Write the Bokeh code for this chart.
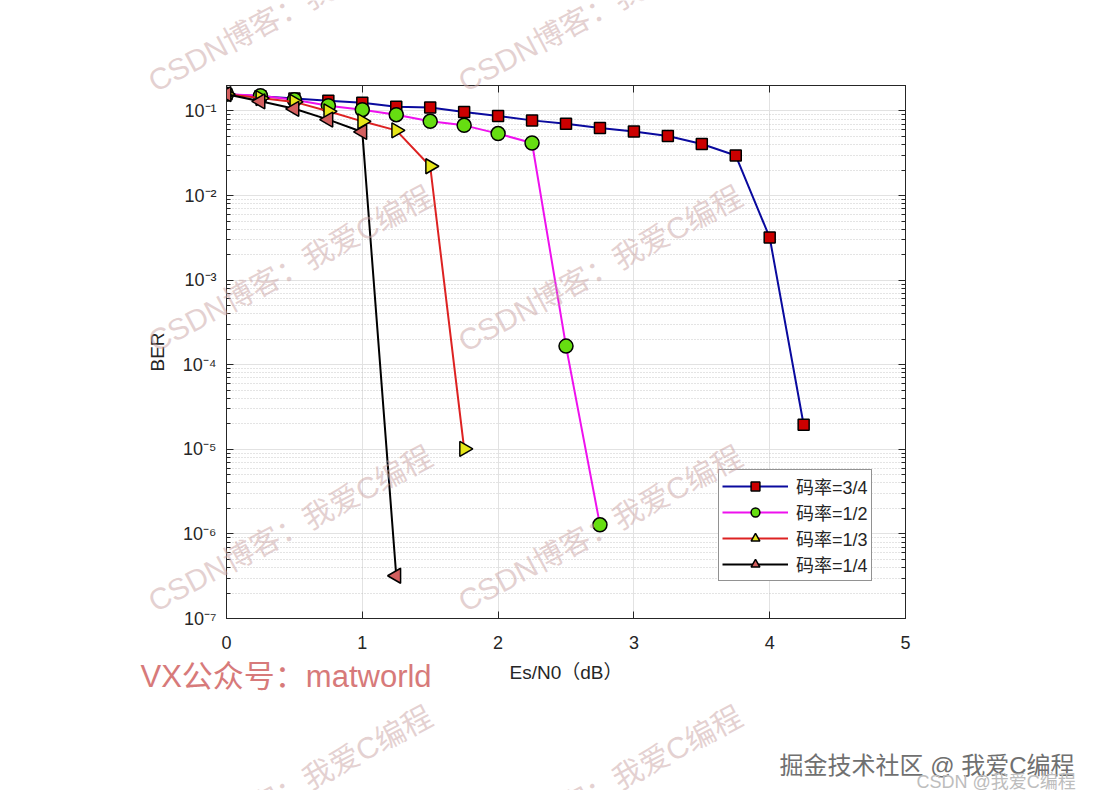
from bokeh.plotting import figure
from bokeh.layouts import column
from bokeh.models import (Range1d, FixedTicker, LinearAxis, LogAxis, Legend,
                          LegendItem, Label, CustomJSTickFormatter)
from bokeh.embed import file_html
from bokeh.resources import INLINE

# ---------------- data ----------------
series_names = ["码率=3/4", "码率=1/2", "码率=1/3", "码率=1/4"]

esn0_r34 = [0, 0.25, 0.5, 0.75, 1.0, 1.25, 1.5, 1.75, 2.0, 2.25, 2.5, 2.75,
            3.0, 3.25, 3.5, 3.75, 4.0, 4.25]
ber_r34 = [0.158, 0.149, 0.140, 0.132, 0.125, 0.112, 0.110, 0.097, 0.087,
           0.0774, 0.0708, 0.0628, 0.0570, 0.0506, 0.0407, 0.0297, 0.00319,
           1.95e-5]

esn0_r12 = [0, 0.25, 0.5, 0.75, 1.0, 1.25, 1.5, 1.75, 2.0, 2.25, 2.5, 2.75]
ber_r12 = [0.158, 0.1516, 0.136, 0.1155, 0.1035, 0.0904, 0.0754, 0.0676,
           0.054, 0.0418, 1.66e-4, 1.28e-6]

esn0_r13 = [0, 0.25, 0.5, 0.75, 1.0, 1.25, 1.5, 1.75]
ber_r13 = [0.158, 0.142, 0.128, 0.099, 0.0754, 0.059, 0.0222, 1.01e-5]

esn0_r14 = [0, 0.25, 0.5, 0.75, 1.0, 1.25]
ber_r14 = [0.158, 0.130, 0.106, 0.079, 0.0565, 3.2e-7]

x_ticks = [0, 1, 2, 3, 4, 5]
x_tick_labels = ["0", "1", "2", "3", "4", "5"]
y_ticks = [1e-7, 1e-6, 1e-5, 1e-4, 1e-3, 1e-2, 1e-1]
y_tick_labels = ["10⁻⁷", "10⁻⁶", "10⁻⁵", "10⁻⁴", "10⁻³", "10⁻²", "10⁻¹"]
x_label = "Es/N0（dB）"
y_label = "BER"

watermark_text = "CSDN博客：我爱C编程"
footer_texts = ["VX公众号：matworld", "掘金技术社区 @ 我爱C编程", "CSDN @我爱C编程"]

# ---------------- layout / style ----------------
FONT = "'Liberation Sans', 'Noto Sans CJK SC'"
AX = "#262626"
W, H = 1094, 790
FL, FR, FT, FB = 226, 905, 85, 618   # frame edges in canvas pixels

p = figure(width=W, height=H, y_axis_type="log",
           x_range=Range1d(0, 5), y_range=Range1d(1e-7, 0.2),
           output_backend="svg", toolbar_location=None,
           min_border_left=FL, min_border_right=W - FR,
           min_border_top=FT, min_border_bottom=H - FB)
p.background_fill_color = "white"
p.border_fill_color = "white"
p.outline_line_color = AX
p.outline_line_width = 1

y_minor = [k * 10.0 ** e for e in range(-7, 0) for k in range(2, 10)
           if k * 10.0 ** e <= 0.2]
xt = FixedTicker(ticks=x_ticks, minor_ticks=[])
yt = FixedTicker(ticks=y_ticks, minor_ticks=y_minor)

xa = p.xaxis[0]
ya = p.yaxis[0]
xa.ticker = xt
ya.ticker = yt
xa.major_label_overrides = dict(zip(x_ticks, x_tick_labels))
ya.major_label_overrides = dict(zip(y_ticks, y_tick_labels))
xa.axis_label = x_label
ya.axis_label = y_label

for ax in (xa, ya):
    ax.axis_line_color = AX
    ax.major_tick_line_color = AX
    ax.minor_tick_line_color = AX
    ax.major_tick_in = 7
    ax.major_tick_out = 0
    ax.minor_tick_in = 4
    ax.minor_tick_out = 0
    ax.major_label_text_font = FONT
    ax.major_label_text_font_size = "18px"
    ax.major_label_text_color = AX
    ax.axis_label_text_font = FONT
    ax.axis_label_text_font_size = "19px"
    ax.axis_label_text_font_style = "normal"
    ax.axis_label_text_color = AX
xa.major_label_standoff = 17
xa.axis_label_standoff = 10
ya.major_label_standoff = 10
ya.axis_label_standoff = 12

blank = CustomJSTickFormatter(code="return ''")
top = LinearAxis(ticker=xt, formatter=blank, axis_line_color=AX,
                 major_tick_line_color=AX, major_tick_in=7, major_tick_out=0,
                 minor_tick_in=0, minor_tick_out=0)
right = LogAxis(ticker=yt, formatter=blank, axis_line_color=AX,
                major_tick_line_color=AX, minor_tick_line_color=AX,
                major_tick_in=7, major_tick_out=0, minor_tick_in=4,
                minor_tick_out=0)
p.add_layout(top, "above")
p.add_layout(right, "right")

p.xgrid.ticker = xt
p.ygrid.ticker = yt
p.xgrid.grid_line_color = "#e2e2e2"
p.ygrid.grid_line_color = "#e2e2e2"
p.ygrid.minor_grid_line_color = "#bdbdbd"
p.ygrid.minor_grid_line_dash = "1 2"
p.ygrid.minor_grid_line_alpha = 0.8

styles = [
    dict(line="#0A0A9E", fill="#CC0000", marker="square", size=11, angle=0.0),
    dict(line="#EE11EE", fill="#66DD11", marker="circle", size=14, angle=0.0),
    dict(line="#DD2222", fill="#E6E619", marker="triangle", size=15, angle=-1.5708),
    dict(line="#000000", fill="#D35F5F", marker="triangle", size=15, angle=1.5708),
]
data = [(esn0_r34, ber_r34), (esn0_r12, ber_r12),
        (esn0_r13, ber_r13), (esn0_r14, ber_r14)]

items = []
for name, (xs, ys), st in zip(series_names, data, styles):
    lr = p.line(xs, ys, line_color=st["line"], line_width=2)
    sr = p.scatter(xs, ys, marker=st["marker"], size=st["size"],
                   angle=st["angle"], fill_color=st["fill"],
                   line_color="black", line_width=1.5)
    items.append(LegendItem(label=name, renderers=[lr, sr]))

legend = Legend(items=items, location=(492, 37), margin=0, padding=3,
                spacing=0, glyph_width=66, glyph_height=22, label_height=20,
                label_standoff=8, label_text_font=FONT,
                label_text_font_size="18px", label_text_color=AX,
                border_line_color=AX, border_line_width=1,
                background_fill_color="white", background_fill_alpha=1.0)
p.add_layout(legend)

# ---------------- transparent overlay figure for the page watermarks ----------
# its frame spans the whole canvas, so data units here equal canvas pixels
wmf = figure(width=W, height=H, x_range=Range1d(0, W), y_range=Range1d(H, 0),
             x_axis_type=None, y_axis_type=None, output_backend="svg",
             toolbar_location=None, min_border=0)
wmf.min_border_left = wmf.min_border_right = 0
wmf.min_border_top = wmf.min_border_bottom = 0
wmf.xgrid.visible = False
wmf.ygrid.visible = False
wmf.outline_line_color = None
wmf.background_fill_alpha = 0
wmf.border_fill_alpha = 0
wmf.margin = (-H, 0, 0, 0)
for fig in (p, wmf):
    try:
        fig.frame_align = False
    except Exception:
        pass


def wm(px, py, text, size, color, alpha=1.0, angle=0.0):
    wmf.add_layout(Label(x=px, y=py, text=text, angle=angle,
                         text_font=FONT, text_font_size=size,
                         text_color=color, text_alpha=alpha,
                         text_align="left", text_baseline="alphabetic"))


for sy in (83, 343, 603, 863):
    for sx in (150, 460):
        wm(sx, sy, watermark_text, "30px", "#C9A3A3", 0.5, 0.49)

wm(140, 676, footer_texts[0], "31px", "#D77A7A")
wm(779, 765, footer_texts[1], "24px", "#707070")
wm(916, 781, footer_texts[2], "18px", "#BDBDBD")

page = column(p, wmf)
open("out.html", "w").write(file_html(page, INLINE))
